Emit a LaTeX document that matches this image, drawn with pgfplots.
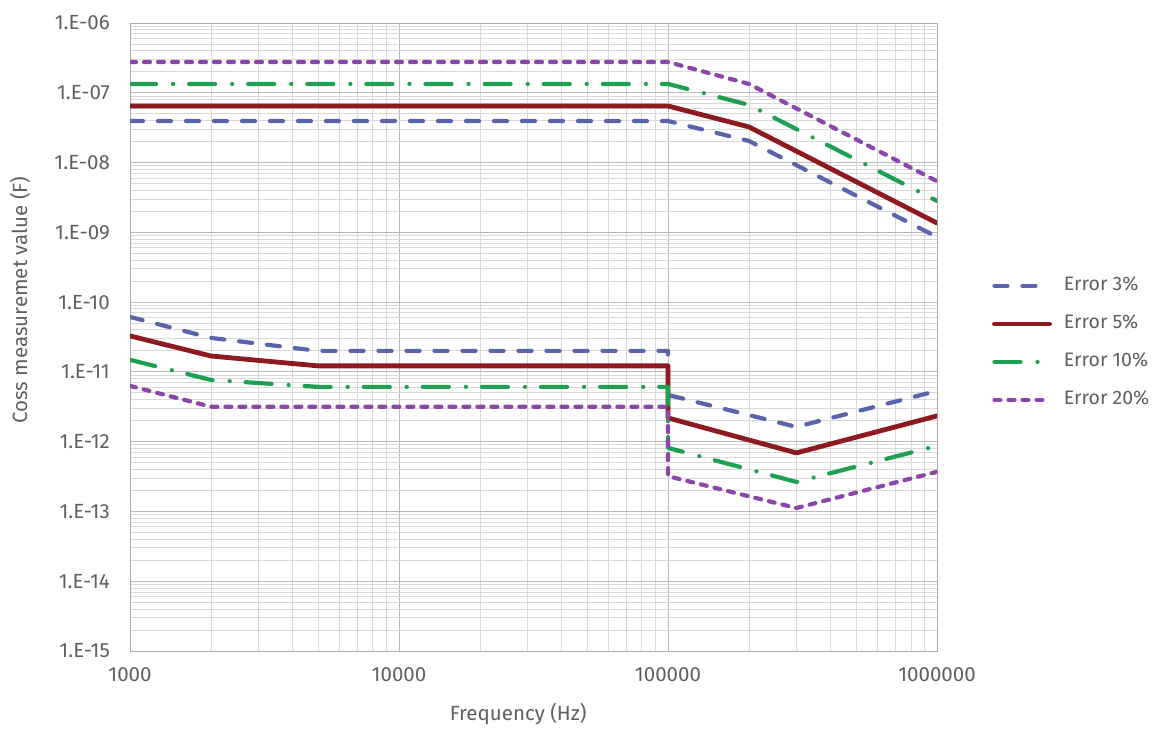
\documentclass[border=0pt]{standalone}
\usepackage{pgfplots}
\pgfplotsset{compat=1.18}
\usepackage{fontspec}
\setmainfont{Fira Sans}
\definecolor{cblue}{RGB}{90,100,170}
\definecolor{cred}{RGB}{140,26,30}
\definecolor{cgreen}{RGB}{30,160,80}
\definecolor{cpurple}{RGB}{140,70,170}
\definecolor{tgray}{RGB}{95,95,95}
\begin{document}
\begin{tikzpicture}
\path[use as bounding box] (0,0) rectangle (1163pt,729pt);
\begin{axis}[
  at={(130pt,78pt)}, anchor=south west,
  scale only axis, width=807pt, height=628pt,
  xmode=log, ymode=log,
  xmin=1000, xmax=1000000, ymin=1e-15, ymax=1e-6,
  xtick={1000,10000,100000,1000000},
  xticklabels={1000,10000,100000,1000000},
  minor xtick={2000,3000,4000,5000,6000,7000,8000,9000,20000,30000,40000,50000,60000,70000,80000,90000,200000,300000,400000,500000,600000,700000,800000,900000},
  ytick={1e-15,1e-14,1e-13,1e-12,1e-11,1e-10,1e-9,1e-8,1e-7,1e-6},
  yticklabels={1.E-15,1.E-14,1.E-13,1.E-12,1.E-11,1.E-10,1.E-09,1.E-08,1.E-07,1.E-06},
  minor ytick={2e-15,3e-15,4e-15,5e-15,6e-15,7e-15,8e-15,9e-15,
    2e-14,3e-14,4e-14,5e-14,6e-14,7e-14,8e-14,9e-14,
    2e-13,3e-13,4e-13,5e-13,6e-13,7e-13,8e-13,9e-13,
    2e-12,3e-12,4e-12,5e-12,6e-12,7e-12,8e-12,9e-12,
    2e-11,3e-11,4e-11,5e-11,6e-11,7e-11,8e-11,9e-11,
    2e-10,3e-10,4e-10,5e-10,6e-10,7e-10,8e-10,9e-10,
    2e-9,3e-9,4e-9,5e-9,6e-9,7e-9,8e-9,9e-9,
    2e-8,3e-8,4e-8,5e-8,6e-8,7e-8,8e-8,9e-8,
    2e-7,3e-7,4e-7,5e-7,6e-7,7e-7,8e-7,9e-7},
  grid=both,
  major grid style={draw=gray!55, line width=0.9pt},
  minor grid style={draw=gray!30, line width=0.9pt},
  major tick length=0pt, minor tick length=0pt,
  axis line style={draw=gray!65, line width=1pt},
  tick label style={font=\fontsize{20.5}{23}\selectfont, text=tgray, inner sep=0pt},
  yticklabel style={anchor=east, xshift=-20pt},
  xticklabel style={anchor=north, yshift=-16pt},
  xlabel={Frequency (Hz)},
  ylabel={Coss measuremet value (F)},
  label style={font=\fontsize{20.5}{23}\selectfont, text=tgray, inner sep=0pt},
  xlabel style={at={(axis description cs:0.481,-0.110)}, anchor=base},
  ylabel style={at={(axis description cs:-0.1276,0.559)}, anchor=base},
  legend cell align=left,
  legend image code/.code={\draw[#1] (0pt,0pt) -- (55pt,0pt);},
  legend style={at={(axis description cs:1.068,0.596)}, anchor=north west,
    draw=none, fill=none, inner sep=0pt, row sep=20pt,
    font=\fontsize{19.5}{22}\selectfont, text=tgray,
    nodes={inner sep=0pt, text height=14pt, text depth=4pt},
    /tikz/every odd column/.append style={column sep=12pt}},
  every axis plot/.append style={line cap=round, line join=round},
]
% Error 3%
\addplot[cblue, line width=4.2pt, dash pattern=on 13pt off 15pt] coordinates {
 (1000,3.94e-8) (100000,3.94e-8) (200000,2.04e-8) (1000000,8.6e-10)};
\addlegendentry{Error 3\%}
\addplot[cred, line width=4.8pt, forget plot] coordinates {
 (1000,6.47e-8) (100000,6.47e-8) (200000,3.24e-8) (1000000,1.36e-9)};
\addplot[cgreen, line width=4.2pt, forget plot, dash pattern=on 26pt off 17pt on 0.1pt off 16pt] coordinates {
 (1000,1.34e-7) (100000,1.34e-7) (200000,6.7e-8) (1000000,2.82e-9)};
\addplot[cpurple, line width=4.2pt, forget plot, dash pattern=on 6pt off 8pt] coordinates {
 (1000,2.76e-7) (100000,2.76e-7) (200000,1.34e-7) (1000000,5.4e-9)};
% lower parts
\addplot[cblue, line width=4.2pt, forget plot, dash pattern=on 13pt off 15pt] coordinates {
 (1000,6.14e-11) (2000,3.07e-11) (5000,2.0e-11) (100000,2.0e-11) (100000,4.68e-12) (300000,1.63e-12) (1000000,5.34e-12)};
\addplot[cred, line width=4.8pt] coordinates {
 (1000,3.28e-11) (2000,1.69e-11) (5000,1.22e-11) (100000,1.22e-11) (100000,2.19e-12) (300000,6.9e-13) (1000000,2.34e-12)};
\addlegendentry{Error 5\%}
\addplot[cgreen, line width=4.2pt, dash pattern=on 26pt off 17pt on 0.1pt off 16pt] coordinates {
 (1000,1.49e-11) (2000,7.67e-12) (5000,6.1e-12) (100000,6.1e-12) (100000,8.15e-13) (300000,2.65e-13) (1000000,8.7e-13)};
\addlegendentry{Error 10\%}
\addplot[cpurple, line width=4.2pt, dash pattern=on 6pt off 8pt] coordinates {
 (1000,6.3e-12) (2000,3.17e-12) (100000,3.17e-12) (100000,3.2e-13) (300000,1.12e-13) (1000000,3.7e-13)};
\addlegendentry{Error 20\%}
\end{axis}
\end{tikzpicture}
\end{document}
